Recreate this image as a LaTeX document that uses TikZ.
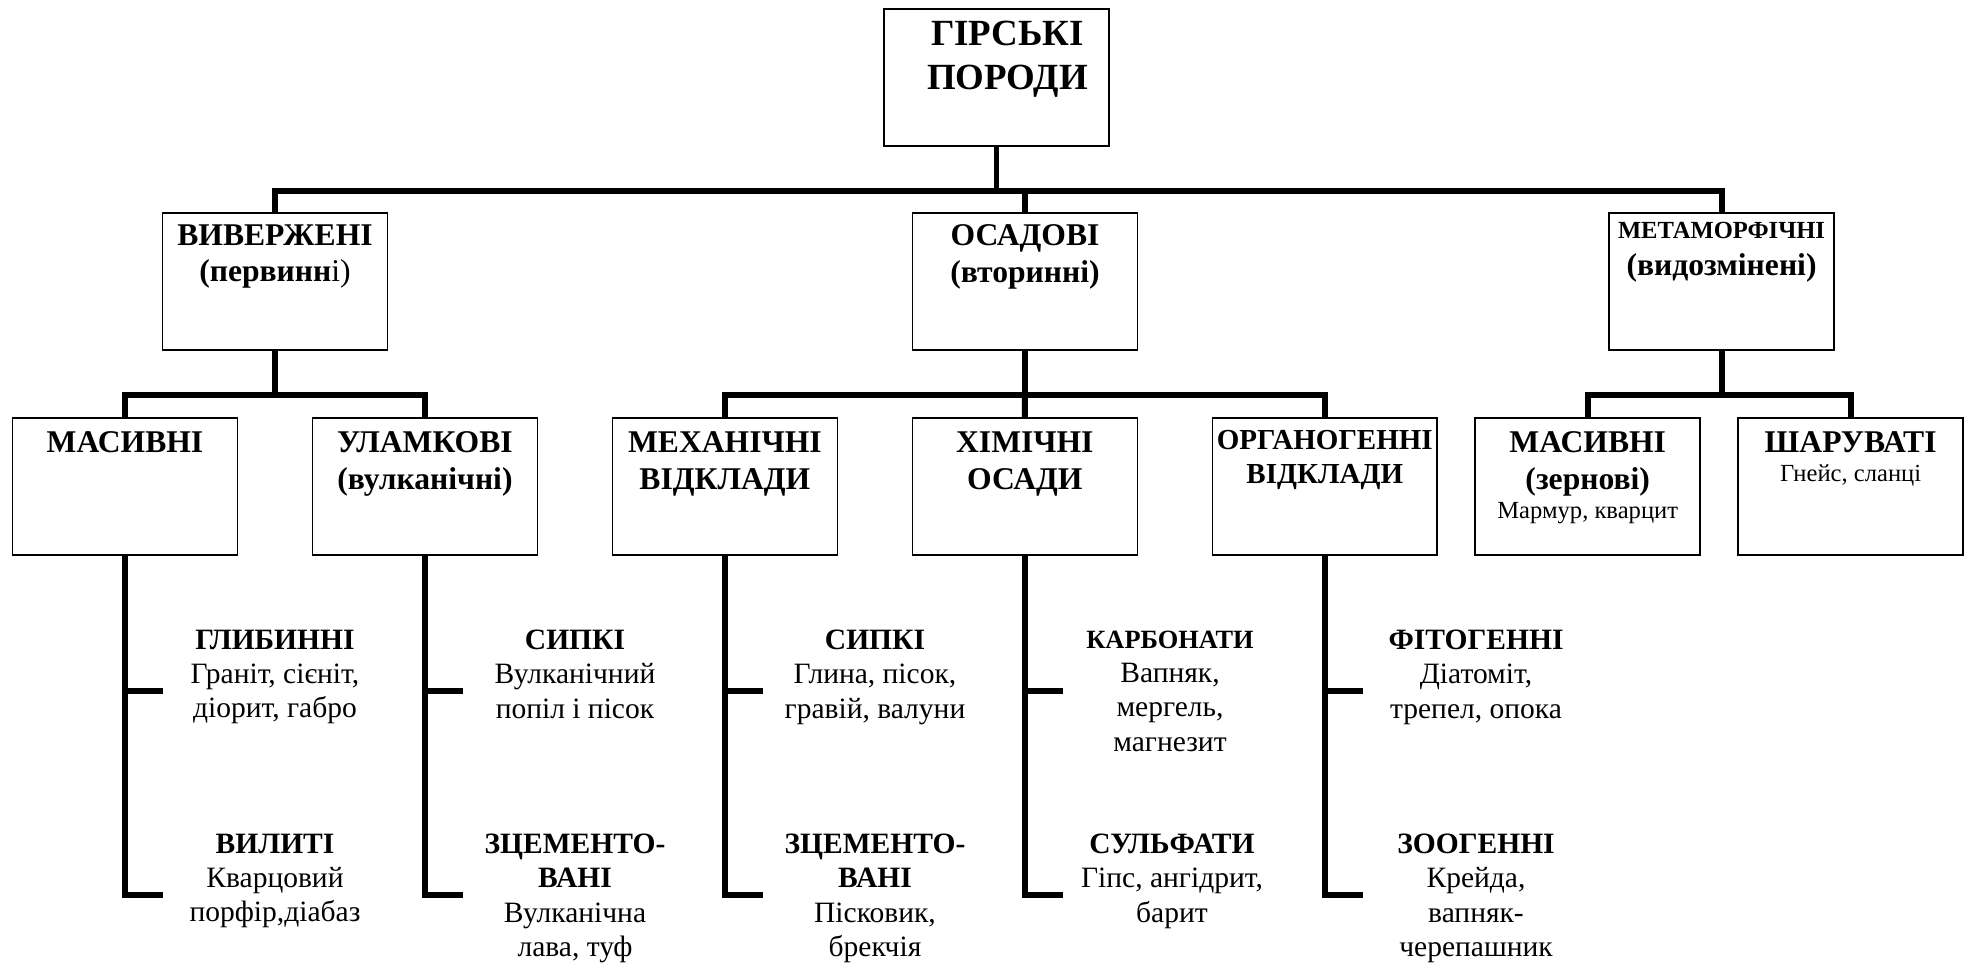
\documentclass[tikz,border=0pt]{standalone}
\usepackage{fontspec}
\setmainfont{Liberation Serif}
\usetikzlibrary{positioning}

\begin{document}
\begin{tikzpicture}[x=0.02cm, y=-0.02cm,
    box/.style={draw, line width=0.9pt, minimum width=4.5cm, minimum height=2.74cm, inner sep=0pt, outer sep=0pt},
    boxtext/.style={anchor=north, inner sep=0pt, align=center, font=\bfseries\fontsize{18}{21}\selectfont},
    itemtext/.style={anchor=north, inner sep=0pt, align=center, font=\fontsize{16.8}{19.4}\selectfont},
    line/.style={line width=3.4pt}]
    \useasboundingbox (0,0) rectangle (1968,966);

    \node[box] (rock_node) at (996.5,77.5) {};
    \node[box] (igneous_node) at (275,281.5) {};
    \node[box] (sedimentary_node) at (1025,281.5) {};
    \node[box] (metamorphic_node) at (1721.5,281.5) {};

    \node[box] (massive_node) at (125,486.5) {};
    \node[box, right=1.5cm of massive_node] (clastic_node) {};
    \node[box, right=1.5cm of clastic_node] (mechanical_node) {};
    \node[box, right=1.5cm of mechanical_node] (chemical_node) {};
    \node[box, right=1.5cm of chemical_node] (organic_node) {};
    \node[box, right=0.76cm of organic_node] (grain_node) {};
    \node[box, right=0.76cm of grain_node] (layer_node) {};

    \node[boxtext, font=\bfseries\fontsize{21}{25}\selectfont, below=0.24cm of rock_node.north, xshift=0.22cm] {ГІРСЬКІ\\ПОРОДИ};
    \node[boxtext, below=0.22cm of igneous_node.north] {ВИВЕРЖЕНІ\\(первинн{\mdseries і)}};
    \node[boxtext, below=0.22cm of sedimentary_node.north] {ОСАДОВІ\\(вторинні)};
    \node[boxtext, below=0.18cm of metamorphic_node.north] {{\fontsize{14}{16}\selectfont МЕТАМОРФІЧНІ}\\(видозмінені)};
    \node[boxtext, below=0.27cm of massive_node.north] {МАСИВНІ};
    \node[boxtext, below=0.27cm of clastic_node.north] {УЛАМКОВІ\\(вулканічні)};
    \node[boxtext, below=0.27cm of mechanical_node.north] {МЕХАНІЧНІ\\ВІДКЛАДИ};
    \node[boxtext, below=0.27cm of chemical_node.north] {ХІМІЧНІ\\ОСАДИ};
    \node[boxtext, font=\bfseries\fontsize{16.5}{19.4}\selectfont, below=0.24cm of organic_node.north] {ОРГАНОГЕННІ\\ВІДКЛАДИ};
    \node[boxtext, below=0.26cm of grain_node.north] {МАСИВНІ\\(зернові)\\[-4.5pt]{\mdseries\fontsize{14}{17}\selectfont Мармур, кварцит}};
    \node[boxtext, below=0.26cm of layer_node.north] {ШАРУВАТІ\\[-4.5pt]{\mdseries\fontsize{14}{16}\selectfont Гнейс, сланці}};

    \draw[line] (rock_node.south) -- ++(0,45) coordinate (rock_bus);
    \draw[line] (igneous_node.north) |- (rock_bus) -| (metamorphic_node.north);
    \draw[line] (rock_bus) -| (sedimentary_node.north);

    \draw[line] (igneous_node.south) -- ++(0,45) coordinate (igneous_bus);
    \draw[line] (massive_node.north) |- (igneous_bus) -| (clastic_node.north);
    \draw[line] (sedimentary_node.south) -- ++(0,45) coordinate (sedimentary_bus);
    \draw[line] (mechanical_node.north) |- (sedimentary_bus) -| (organic_node.north);
    \draw[line] (sedimentary_bus) -- (chemical_node.north);
    \draw[line] (metamorphic_node.south) -- ++(0,45) coordinate (metamorphic_bus);
    \draw[line] (grain_node.north) |- (metamorphic_bus) -| (layer_node.north);

    \foreach \col in {massive_node, clastic_node, mechanical_node, chemical_node, organic_node} {
        \draw[line] (\col.south) -- ++(0,136) coordinate (tick) -- ++(0,204) -- ++(38,0);
        \draw[line] (tick) -- ++(38,0);
    }

    \node[itemtext] (deep_item) at (275,630) {\textbf{ГЛИБИННІ}\\Граніт, сієніт,\\діорит, габро};
    \node[itemtext] (effusive_item) at (275,834) {\textbf{ВИЛИТІ}\\Кварцовий\\порфір,діабаз};
    \node[itemtext] (ash_item) at (575,630) {\textbf{СИПКІ}\\Вулканічний\\попіл і пісок};
    \node[itemtext] (lava_item) at (575,834) {\textbf{ЗЦЕМЕНТО-}\\\textbf{ВАНІ}\\Вулканічна\\лава, туф};
    \node[itemtext] (loose_item) at (875,630) {\textbf{СИПКІ}\\Глина, пісок,\\гравій, валуни};
    \node[itemtext] (cemented_item) at (875,834) {\textbf{ЗЦЕМЕНТО-}\\\textbf{ВАНІ}\\Пісковик,\\брекчія};
    \node[itemtext] (carbonate_item) at (1170,631) {{\bfseries\fontsize{15}{19.4}\selectfont КАРБОНАТИ}\\Вапняк,\\мергель,\\магнезит};
    \node[itemtext] (sulfate_item) at (1172,834) {\textbf{СУЛЬФАТИ}\\Гіпс, ангідрит,\\барит};
    \node[itemtext] (plant_item) at (1476,630) {\textbf{ФІТОГЕННІ}\\Діатоміт,\\трепел, опока};
    \node[itemtext] (animal_item) at (1476,834) {\textbf{ЗООГЕННІ}\\Крейда,\\вапняк-\\черепашник};
\end{tikzpicture}
\end{document}
